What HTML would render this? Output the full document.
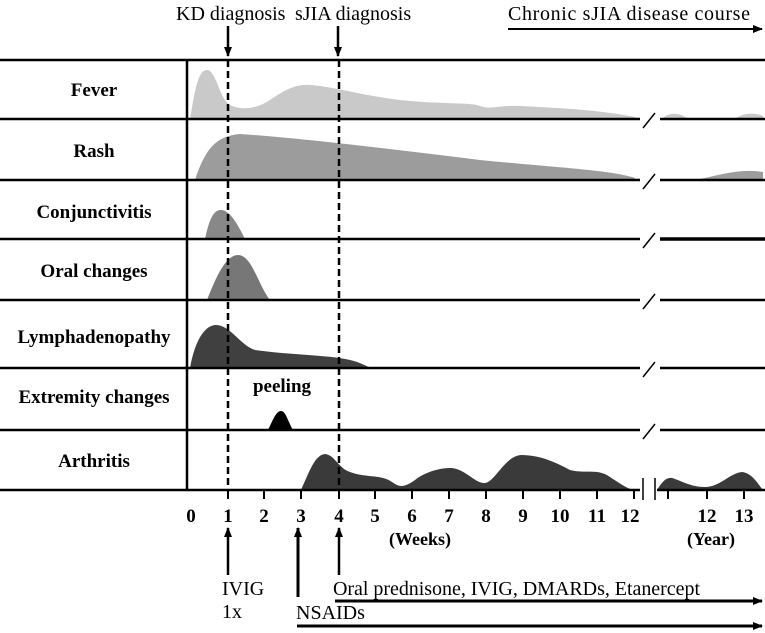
<!DOCTYPE html>
<html><head><style>
html,body{margin:0;padding:0;background:#fff;}
svg{display:block;}
text{font-family:"Liberation Serif",serif;}
.b{font-weight:bold;font-size:19px;}
</style></head><body>
<svg width="765" height="633" viewBox="0 0 765 633" xmlns="http://www.w3.org/2000/svg">
<defs>
<marker id="ah" markerWidth="10" markerHeight="8" refX="9" refY="4" orient="auto" markerUnits="userSpaceOnUse"><path d="M0,0 L10,4 L0,8 z" fill="#000"/></marker>
</defs>
<path d="M190,119 C195,90 198,70 207,70 C216,70 220,100 230,105 C240,110 255,110 270,100 C285,90 295,84 310,85 C330,86 360,95 400,100 C450,105 470,102 480,106 C490,110 500,105 520,106 C560,108 600,110 635,117 L635,119 Z" fill="#c9c9c9"/>
<path d="M662,119 C668,112 680,112 688,119 Z M735,119 C742,113 755,112 763,116 L763,119 Z" fill="#c9c9c9"/>
<path d="M195,180 C205,150 215,136 240,134 C300,138 400,150 480,160 C560,168 610,170 635,178 L635,180 Z" fill="#9c9c9c"/>
<path d="M695,180 C720,175 740,168 763,172 L763,180 Z" fill="#9c9c9c"/>
<path d="M205,239 C210,215 215,210 221,210 C230,210 238,225 245,239 Z" fill="#888"/>
<path d="M207,300 C215,280 225,255 238,255 C252,255 258,285 270,300 Z" fill="#777"/>
<path d="M190,368 C195,340 205,325 216,325 C230,325 240,345 255,350 C290,355 330,355 350,360 C360,362 365,366 372,368 Z" fill="#404040"/>
<path d="M268,430 C273,420 276,411 281,411 C286,411 288,422 293,430 Z" fill="#000"/>
<path d="M301,490 C310,470 315,455 325,454 C335,455 338,468 350,472 C365,478 380,474 392,482 C400,488 405,487 415,480 C425,472 440,468 450,468 C465,468 475,484 485,483 C495,482 505,456 521,455 C540,455 555,462 570,470 C585,474 598,468 610,477 C622,485 627,488 633,490 Z" fill="#3a3a3a"/>
<path d="M657,490 C662,482 666,477 672,478 C680,480 690,487 705,487 C720,487 730,473 742,472 C752,473 758,484 763,490 Z" fill="#3a3a3a"/>
<g stroke="#000" stroke-width="2.5">
<line x1="0" y1="60" x2="765" y2="60"/>
<line x1="0" y1="119" x2="640" y2="119"/><line x1="660" y1="119" x2="765" y2="119"/>
<line x1="0" y1="180" x2="640" y2="180"/><line x1="660" y1="180" x2="765" y2="180"/>
<line x1="0" y1="239" x2="640" y2="239"/><line x1="660" y1="239" x2="765" y2="239" stroke-width="3.5"/>
<line x1="0" y1="300" x2="640" y2="300"/><line x1="660" y1="300" x2="765" y2="300"/>
<line x1="0" y1="368" x2="640" y2="368"/><line x1="660" y1="368" x2="765" y2="368"/>
<line x1="0" y1="430" x2="640" y2="430"/><line x1="660" y1="430" x2="765" y2="430"/>
<line x1="0" y1="490" x2="640" y2="490"/><line x1="657" y1="490" x2="765" y2="490"/>
<line x1="187" y1="60" x2="187" y2="490"/>
</g>
<g stroke="#000" stroke-width="1.5">
<line x1="643" y1="128" x2="655" y2="113"/><line x1="643" y1="189" x2="655" y2="174"/>
<line x1="643" y1="248" x2="655" y2="233"/><line x1="643" y1="309" x2="655" y2="294"/>
<line x1="643" y1="377" x2="655" y2="362"/><line x1="643" y1="439" x2="655" y2="424"/>
<line x1="643" y1="478" x2="643" y2="500"/><line x1="655" y1="478" x2="655" y2="500"/>
</g>
<g stroke="#000" stroke-width="2.5" stroke-dasharray="7,4">
<line x1="228" y1="60" x2="228" y2="490"/>
<line x1="339" y1="60" x2="339" y2="490"/>
</g>
<g stroke="#000" stroke-width="2">
<line x1="228" y1="490" x2="228" y2="499"/><line x1="264" y1="490" x2="264" y2="499"/>
<line x1="301" y1="490" x2="301" y2="499"/><line x1="339" y1="490" x2="339" y2="499"/>
<line x1="375" y1="490" x2="375" y2="499"/><line x1="412" y1="490" x2="412" y2="499"/>
<line x1="449" y1="490" x2="449" y2="499"/><line x1="486" y1="490" x2="486" y2="499"/>
<line x1="523" y1="490" x2="523" y2="499"/><line x1="560" y1="490" x2="560" y2="499"/>
<line x1="597" y1="490" x2="597" y2="499"/><line x1="634" y1="490" x2="634" y2="499"/>
<line x1="668" y1="490" x2="668" y2="499"/><line x1="707" y1="490" x2="707" y2="499"/>
<line x1="744" y1="490" x2="744" y2="499"/>
</g>
<g class="b" text-anchor="middle">
<text x="94" y="96">Fever</text>
<text x="94" y="157">Rash</text>
<text x="94" y="218">Conjunctivitis</text>
<text x="94" y="277">Oral changes</text>
<text x="94" y="343">Lymphadenopathy</text>
<text x="94" y="403">Extremity changes</text>
<text x="94" y="467">Arthritis</text>
<text x="282" y="392">peeling</text>
</g>
<g class="b" text-anchor="middle">
<text x="191" y="522">0</text><text x="228" y="522">1</text><text x="264" y="522">2</text>
<text x="301" y="522">3</text><text x="339" y="522">4</text><text x="375" y="522">5</text>
<text x="412" y="522">6</text><text x="449" y="522">7</text><text x="486" y="522">8</text>
<text x="523" y="522">9</text><text x="560" y="522">10</text><text x="597" y="522">11</text>
<text x="630" y="522">12</text><text x="707" y="522">12</text><text x="744" y="522">13</text>
<text x="420" y="545" style="font-size:18px">(Weeks)</text>
<text x="711" y="545" style="font-size:18px">(Year)</text>
</g>
<g style="font-size:20px">
<text x="176" y="20">KD diagnosis</text>
<text x="295" y="20">sJIA diagnosis</text>
<text x="508" y="20" textLength="242">Chronic sJIA disease course</text>
<text x="222" y="595">IVIG</text>
<text x="222" y="618">1x</text>
<text x="296" y="619">NSAIDs</text>
<text x="333" y="595" textLength="367">Oral prednisone, IVIG, DMARDs, Etanercept</text>
</g>
<g stroke="#000" stroke-width="2.5" marker-end="url(#ah)">
<line x1="228" y1="26" x2="228" y2="56"/>
<line x1="338" y1="26" x2="338" y2="56"/>
<line x1="508" y1="29" x2="762" y2="29" stroke-width="2"/>
<line x1="228" y1="575" x2="228" y2="528"/>
<line x1="298" y1="597" x2="298" y2="528" stroke-width="3"/>
<line x1="339" y1="575" x2="339" y2="528"/>
<line x1="335" y1="601" x2="762" y2="601" stroke-width="3"/>
<line x1="297" y1="626" x2="762" y2="626" stroke-width="3"/>
</g>
</svg>
</body></html>
